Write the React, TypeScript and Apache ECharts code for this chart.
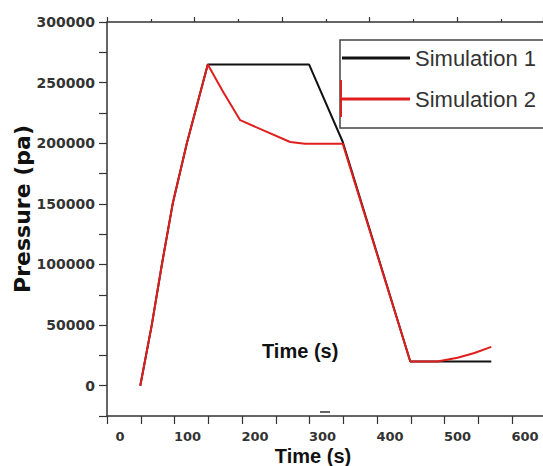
import React, { useEffect, useRef } from "react";
import * as echarts from "echarts";

// ---- data ----
const SIM1_TIME = [30, 47, 62, 78, 99, 130, 280, 330, 430, 550];
const SIM1_PRESSURE = [0, 50000, 100000, 150000, 200000, 265000, 265000, 201000, 20000, 20000];

const SIM2_TIME = [30, 47, 62, 78, 99, 130, 152, 178, 252, 274, 330, 430, 470, 500, 525, 550];
const SIM2_PRESSURE = [0, 50000, 100000, 150000, 200000, 265000, 243000, 219000, 201000, 199500, 199500, 20000, 20000, 23000, 27000, 32000];

const SERIES_NAMES = ["Simulation 1", "Simulation 2"];
const X_LABELS = [0, 100, 200, 300, 400, 500, 600];
const Y_LABELS = [0, 50000, 100000, 150000, 200000, 250000, 300000];
const X_NAME = "Time (s)";
const Y_NAME = "Pressure (pa)";
const INNER_NOTE = "Time (s)";

// axis extents (the reference's labels sit offset from its tick marks)
const X_MIN = -19.3;
const X_MAX = 626.6;
const X_TICK_STEP = 50;
const Y_MIN = -25000;
const Y_MAX = 300000;
const Y_TICK_STEP = 25000;

const X_TICKS: number[] = [];
for (let v = X_MIN; v <= X_MAX; v += X_TICK_STEP) X_TICKS.push(v);

const zip = (xs: number[], ys: number[]) => xs.map((x, i) => [x, ys[i]]);

export default function App() {
  const ref = useRef<HTMLDivElement>(null);
  useEffect(() => {
    if (!ref.current) return;
    const chart = echarts.init(ref.current, undefined, { renderer: "svg" });
    const axisColor = "#333";
    const labelFont = "DejaVu Sans";
    chart.setOption({
      animation: false,
      backgroundColor: "#fff",
      grid: { left: 107, top: 22, right: 0, bottom: 50, containLabel: false, outerBoundsMode: "none" },
      legend: {
        data: SERIES_NAMES,
        orient: "vertical",
        left: 340,
        top: 40,
        padding: [5, 10, 16, 2],
        itemGap: 15,
        itemWidth: 68,
        itemHeight: 3,
        icon: "rect",
        borderWidth: 0,
        textStyle: { fontFamily: "Liberation Sans", fontSize: 22, lineHeight: 26, color: "#333" },
      },
      xAxis: [
        {
          type: "value",
          position: "bottom",
          min: X_MIN,
          max: X_MAX,
          name: X_NAME,
          nameLocation: "middle",
          nameGap: 29,
          nameMoveOverlap: false,
          nameTextStyle: { fontFamily: "Liberation Sans", fontWeight: "bold", fontSize: 20, lineHeight: 21, color: "#111", padding: [0, 24, 0, 0] },
          axisLine: { show: true, onZero: false, lineStyle: { color: axisColor, width: 1.5 } },
          axisTick: { show: true, inside: false, length: 8, customValues: X_TICKS, lineStyle: { color: axisColor, width: 1.2 } },
          axisLabel: { customValues: X_LABELS, margin: 13, lineHeight: 15, fontFamily: labelFont, fontWeight: "bold", fontSize: 13, color: "#333", formatter: (v: number) => String(v) },
          splitLine: { show: false },
        },
        {
          type: "value",
          position: "top",
          min: 0,
          max: 436,
          interval: 87.5,
          axisLine: { show: true, onZero: false, lineStyle: { color: axisColor, width: 1.5 } },
          axisTick: { show: true, inside: false, length: 5, lineStyle: { color: axisColor, width: 1.2 } },
          minorTick: { show: true, splitNumber: 2, length: 3, lineStyle: { color: axisColor, width: 1.2 } },
          axisLabel: { show: false },
          splitLine: { show: false },
        },
      ],
      yAxis: {
        type: "value",
        min: Y_MIN,
        max: Y_MAX,
        interval: Y_TICK_STEP,
        name: Y_NAME,
        nameLocation: "middle",
        nameRotate: 90,
        nameGap: 74,
        nameMoveOverlap: false,
        nameTextStyle: { fontFamily: labelFont, fontWeight: "bold", fontSize: 22, color: "#111", padding: [0, 0, 0, 20] },
        axisLine: { show: true, onZero: false, lineStyle: { color: axisColor, width: 1.5 } },
        axisTick: { show: true, inside: false, length: 8, lineStyle: { color: axisColor, width: 1.2 } },
        axisLabel: { customValues: Y_LABELS, margin: 12, fontFamily: labelFont, fontWeight: "bold", fontSize: 14, color: "#333", formatter: (v: number) => String(v) },
        splitLine: { show: false },
      },
      series: [
        {
          name: SERIES_NAMES[0],
          type: "line",
          xAxisIndex: 0,
          data: zip(SIM1_TIME, SIM1_PRESSURE),
          showSymbol: false,
          color: "#111",
          lineStyle: { color: "#111", width: 2 },
          z: 2,
        },
        {
          name: SERIES_NAMES[1],
          type: "line",
          xAxisIndex: 0,
          data: zip(SIM2_TIME, SIM2_PRESSURE),
          showSymbol: false,
          color: "#e01e1e",
          lineStyle: { color: "#e01e1e", width: 2 },
          z: 3,
        },
      ],
      graphic: [
        {
          type: "rect",
          shape: { x: 340, y: 40, width: 230, height: 88 },
          style: { fill: "none", stroke: "#444", lineWidth: 1.5 },
          z: 5,
        },
        {
          type: "text",
          left: 262,
          top: 341,
          style: { text: INNER_NOTE, fontFamily: "Liberation Sans", fontWeight: "bold", fontSize: 20, fill: "#111" },
        },
        {
          type: "line",
          shape: { x1: 320, y1: 412, x2: 330, y2: 412 },
          style: { stroke: "#666", lineWidth: 2 },
        },
        {
          type: "line",
          shape: { x1: 341, y1: 80, x2: 341, y2: 117 },
          style: { stroke: "#e01e1e", lineWidth: 2 },
          z: 10,
        },
      ],
    });
    return () => chart.dispose();
  }, []);
  return (
    <div
      ref={ref}
      style={{ position: "absolute", left: 0, top: 0, width: 543, height: 466, background: "#fff" }}
    />
  );
}
